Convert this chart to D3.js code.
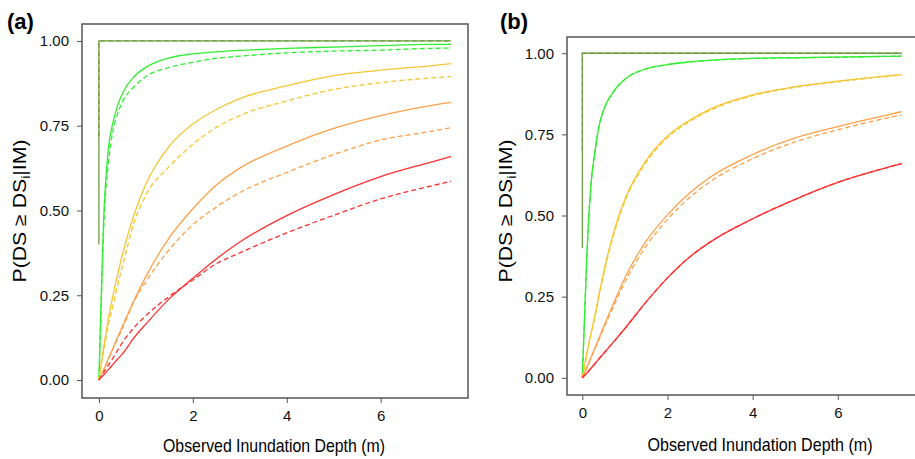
<!DOCTYPE html>
<html>
<head>
<meta charset="utf-8">
<script src="https://cdn.jsdelivr.net/npm/d3@7"></script>
<style>
body{margin:0;background:#fff;}
svg{display:block;font-family:Arial,"Liberation Sans",sans-serif;}
.tick text{font-size:15px;fill:#111;}
.tick line{stroke:#555;}
</style>
</head>
<body>
<div id="canvas"></div>
<script>
// depth grid (m) shared by every curve
var depth = [0,0.05,0.1,0.2,0.3,0.4,0.5,0.75,1,1.5,2,2.5,3,4,5,6,7,7.5];
var xTicks = [0,2,4,6];
var yTicks = [0,0.25,0.5,0.75,1];

// step curve (DS1), solid and dashed
var stepDepth = [0,0,7.5];
var stepSolid = [0.40,1,1];
var stepDashA = [0.72,1,1];
var stepDashB = [0.70,1,1];

// panel (a)
var greenSolidA  = [0,0.25,0.47,0.68,0.76,0.81,0.845,0.895,0.922,0.95,0.962,0.968,0.972,0.978,0.982,0.986,0.99,0.99];
var greenDashA   = [0,0.22,0.44,0.637,0.735,0.785,0.82,0.865,0.895,0.922,0.937,0.949,0.955,0.965,0.97,0.973,0.978,0.979];
var yellowSolidA = [0,0.05,0.095,0.18,0.25,0.312,0.37,0.488,0.578,0.69,0.755,0.798,0.83,0.868,0.898,0.914,0.926,0.933];
var yellowDashA  = [0,0.045,0.085,0.16,0.22,0.28,0.335,0.465,0.545,0.63,0.695,0.745,0.78,0.823,0.857,0.877,0.89,0.895];
var orangeSolidA = [0,0.015,0.03,0.063,0.094,0.127,0.158,0.235,0.305,0.42,0.505,0.575,0.625,0.69,0.742,0.78,0.808,0.819];
var orangeDashA  = [0,0.014,0.028,0.06,0.092,0.122,0.152,0.232,0.29,0.385,0.458,0.51,0.553,0.612,0.665,0.708,0.732,0.744];
var redSolidA    = [0,0.008,0.015,0.03,0.046,0.062,0.077,0.125,0.165,0.24,0.30,0.357,0.407,0.485,0.547,0.60,0.64,0.659];
var redDashA     = [0,0.011,0.022,0.043,0.065,0.088,0.11,0.155,0.19,0.247,0.295,0.343,0.375,0.434,0.486,0.534,0.57,0.586];

// panel (b)
var greenB       = [0,0.18,0.355,0.59,0.70,0.78,0.825,0.885,0.92,0.952,0.965,0.973,0.978,0.984,0.986,0.988,0.99,0.991];
var yellowSolidB = [0,0.035,0.07,0.135,0.195,0.262,0.325,0.455,0.55,0.67,0.745,0.792,0.828,0.872,0.897,0.914,0.928,0.934];
var yellowDashB  = [0,0.034,0.068,0.131,0.19,0.256,0.318,0.447,0.543,0.664,0.74,0.788,0.824,0.869,0.895,0.912,0.927,0.933];
var orangeSolidB = [0,0.015,0.03,0.062,0.093,0.125,0.157,0.234,0.308,0.421,0.502,0.567,0.618,0.688,0.739,0.774,0.805,0.82];
var orangeDashB  = [0,0.014,0.029,0.06,0.09,0.121,0.152,0.225,0.295,0.406,0.488,0.553,0.604,0.675,0.727,0.764,0.796,0.81];
var redB         = [0,0.007,0.014,0.029,0.044,0.06,0.075,0.113,0.152,0.234,0.308,0.37,0.418,0.49,0.55,0.602,0.642,0.66];

var col = {step:'#6f9f45', green:'#30ee30', yellow:'#f5c630', orange:'#ffa048', red:'#ff3030'};

var svg = d3.select('#canvas').append('svg')
    .attr('width',915)
    .attr('height',459);

function drawPanel(p){
    var x = d3.scaleLinear().domain([-0.36,7.86]).range([p.l,p.r]);
    var y = d3.scaleLinear().domain([-0.053,1.05]).range([p.b,p.t]);
    var g = svg.append('g');

    var line = d3.line()
        .x(function(d){return x(d[0]);})
        .y(function(d){return y(d[1]);})
        .curve(d3.curveMonotoneX);
    var stepLine = d3.line()
        .x(function(d){return x(d[0]);})
        .y(function(d){return y(d[1]);});

    p.series.forEach(function(s){
        var pts = s.xs.map(function(v,i){return [v,s.ys[i]];});
        g.append('path')
            .attr('d',(s.step ? stepLine : line)(pts))
            .attr('fill','none')
            .attr('stroke',s.color)
            .attr('stroke-width',1.3)
            .attr('stroke-dasharray',s.dash ? '5,3' : null);
    });

    // box
    g.append('path')
        .attr('d','M'+p.l+','+p.t+'H'+p.r+'V'+p.b+'H'+p.l+'Z')
        .attr('fill','none')
        .attr('stroke','#555')
        .attr('stroke-width',1.5);

    var ax = g.append('g')
        .attr('transform','translate(0,'+p.b+')')
        .call(d3.axisBottom(x).tickValues(xTicks).tickSize(5).tickPadding(7).tickFormat(d3.format('d')));
    var ay = g.append('g')
        .attr('transform','translate('+p.l+',0)')
        .call(d3.axisLeft(y).tickValues(yTicks).tickSize(5).tickPadding(8).tickFormat(d3.format('.2f')));
    ax.select('.domain').remove();
    ay.select('.domain').remove();
    g.selectAll('.tick text').attr('font-family',null);

    svg.append('text')
        .attr('x',p.tagX).attr('y',29)
        .attr('font-size',22).attr('font-weight','bold')
        .text(p.tag);

    svg.append('text')
        .attr('x',p.xTitleX).attr('y',p.xTitleY)
        .attr('text-anchor','middle')
        .attr('font-size',19)
        .attr('textLength',p.xTitleLen).attr('lengthAdjust','spacingAndGlyphs')
        .text('Observed Inundation Depth (m)');

    var yt = svg.append('text')
        .attr('transform','translate('+p.yTitleX+','+p.yTitleY+') rotate(-90)')
        .attr('text-anchor','middle')
        .attr('font-size',18)
        .attr('textLength',143).attr('lengthAdjust','spacingAndGlyphs');
    yt.append('tspan').text('P(DS \u2265 DS');
    yt.append('tspan').attr('font-size',12).attr('dy',4).text('i');
    yt.append('tspan').attr('dy',-4).text('|IM)');
}

drawPanel({
    l:82, r:468, t:24, b:398, tag:'(a)', tagX:7,
    xTitleX:274, xTitleY:452, xTitleLen:222, yTitleX:26, yTitleY:211,
    series:[
        {xs:stepDepth, ys:stepSolid, color:col.step, step:true},
        {xs:stepDepth, ys:stepDashA, color:col.step, step:true, dash:true},
        {xs:depth, ys:greenSolidA, color:col.green},
        {xs:depth, ys:greenDashA, color:col.green, dash:true},
        {xs:depth, ys:yellowSolidA, color:col.yellow},
        {xs:depth, ys:yellowDashA, color:col.yellow, dash:true},
        {xs:depth, ys:orangeSolidA, color:col.orange},
        {xs:depth, ys:orangeDashA, color:col.orange, dash:true},
        {xs:depth, ys:redSolidA, color:col.red},
        {xs:depth, ys:redDashA, color:col.red, dash:true}
    ]
});

drawPanel({
    l:567, r:917, t:37, b:395, tag:'(b)', tagX:500,
    xTitleX:760, xTitleY:451, xTitleLen:225, yTitleX:512, yTitleY:211,
    series:[
        {xs:stepDepth, ys:stepSolid, color:col.step, step:true},
        {xs:stepDepth, ys:stepDashB, color:col.step, step:true, dash:true},
        {xs:depth, ys:greenB, color:col.green},
        {xs:depth, ys:greenB, color:col.green, dash:true},
        {xs:depth, ys:yellowSolidB, color:col.yellow},
        {xs:depth, ys:yellowDashB, color:col.yellow, dash:true},
        {xs:depth, ys:orangeSolidB, color:col.orange},
        {xs:depth, ys:orangeDashB, color:col.orange, dash:true},
        {xs:depth, ys:redB, color:col.red},
        {xs:depth, ys:redB, color:col.red, dash:true}
    ]
});
</script>
</body>
</html>
